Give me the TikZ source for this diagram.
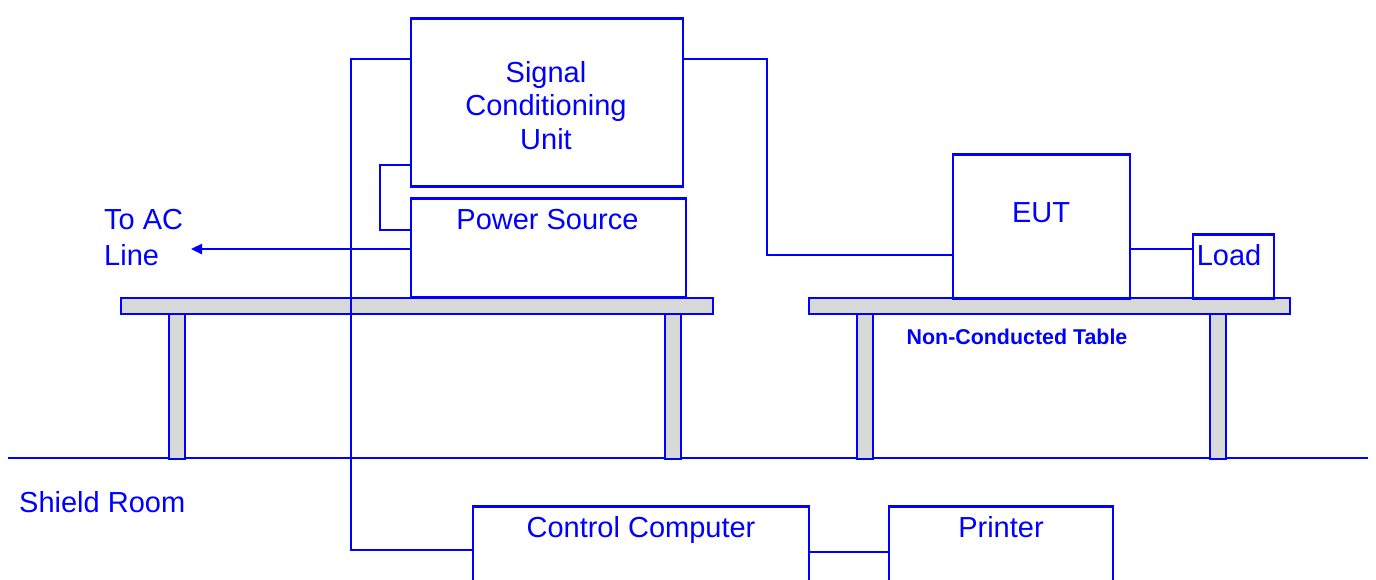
\documentclass[tikz,border=0pt]{standalone}
\usepackage{fontspec}
\setmainfont{Liberation Sans}
\usetikzlibrary{arrows.meta}
\definecolor{bl}{RGB}{0,0,255}
\definecolor{tg}{RGB}{217,217,217}
\begin{document}
\begin{tikzpicture}[x=1pt,y=-1pt,
 box/.style={draw=bl,line width=2.8pt,fill=white,inner sep=0pt,anchor=north west},
 slab/.style={draw=bl,line width=2.2pt,fill=tg,inner sep=0pt,anchor=north west},
 wire/.style={draw=bl,line width=2.4pt},
 lbl/.style={text=bl,font=\fontsize{29pt}{33.7pt}\selectfont,inner sep=0pt,align=center},
 small/.style={text=bl,font=\bfseries\fontsize{21.4pt}{24pt}\selectfont,inner sep=0pt}]
\useasboundingbox (0,0) rectangle (1376,579);
\clip (0,0) rectangle (1376,579);
% floor
\coordinate (fl) at (8,458);
\coordinate (fr) at (1368,458);
\draw[wire] (fl) -- (fr);
% legs
\node[slab,minimum width=16,minimum height=145] (l1) at (168,313) {};
\node[slab,minimum width=16,minimum height=145] (l2) at (664,313) {};
\node[slab,minimum width=16,minimum height=145] (l3) at (856,313) {};
\node[slab,minimum width=16,minimum height=145] (l4) at (1209,313) {};
% table tops
\node[slab,minimum width=592,minimum height=16] (t1) at (120,297) {};
\node[slab,minimum width=481,minimum height=16] (t2) at (808,297) {};
% boxes
\node[box,minimum width=272,minimum height=168] (scu) at (409.5,17) {};
\node[box,minimum width=275,minimum height=99] (ps) at (409.5,197) {};
\node[box,minimum width=177,minimum height=144] (eut) at (951.5,153) {};
\node[box,minimum width=81,minimum height=64] (load) at (1191.5,233) {};
\node[box,minimum width=336,minimum height=100] (cc) at (471.5,505) {};
\node[box,minimum width=224,minimum height=100] (pr) at (887.5,505) {};
% wires
\coordinate (a1) at (351,59);
\coordinate (a2) at (351,550);
\draw[wire] (scu.west |- a1) -- (a1) -- (a2) -- (cc.west |- a2);
\coordinate (b1) at (380,165);
\coordinate (b2) at (380,230);
\draw[wire] (scu.west |- b1) -- (b1) -- (b2) -- (ps.west |- b2);
\coordinate (ac) at (191,249);
\draw[wire,-{Triangle[length=11pt,width=10pt]}] (ps.west |- ac) -- (ac);
\coordinate (d1) at (767,59);
\coordinate (d2) at (767,255);
\draw[wire] (scu.east |- d1) -- (d1) -- (d2) -- (eut.west |- d2);
\coordinate (e1) at (1150,249);
\draw[wire] (eut.east |- e1) -- (load.west |- e1);
\coordinate (f1) at (850,552);
\draw[wire] (cc.east |- f1) -- (pr.west |- f1);
% texts
\node[lbl] (tscu) at (546,105.5) {Signal\\Conditioning\\Unit};
\node[lbl,anchor=base] (tps) at (547.5,229) {Power Source};
\node[lbl,anchor=base] (teut) at (1041,222) {EUT};
\node[lbl,anchor=base] (tload) at (1229,265) {Load};
\node[lbl,anchor=base] (tcc) at (641,537) {Control Computer};
\node[lbl,anchor=base] (tpr) at (1001,537) {Printer};
\node[lbl,anchor=base west] (tac1) at (104,229) {To AC};
\node[lbl,anchor=base west] (tac2) at (104,265) {Line};
\node[lbl,anchor=base west] (tsr) at (19,512) {Shield Room};
\node[small,anchor=base] (tnct) at (1017,344) {Non-Conducted Table};
\end{tikzpicture}
\end{document}
